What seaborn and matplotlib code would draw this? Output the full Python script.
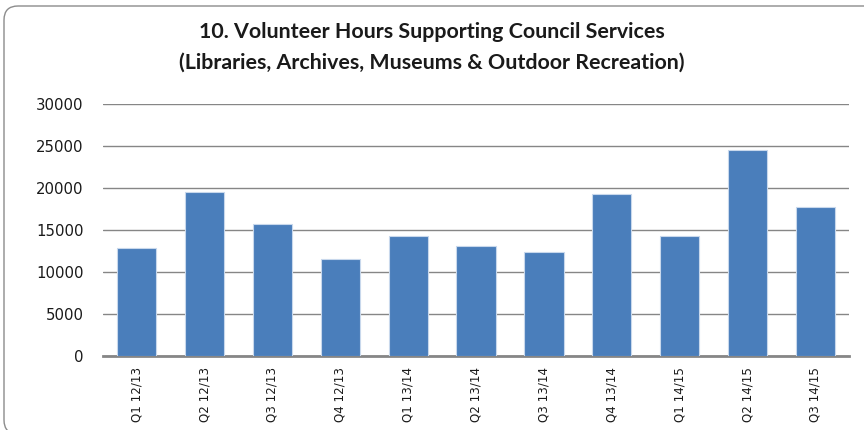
import matplotlib
matplotlib.use("Agg")
import matplotlib.pyplot as plt
from matplotlib.patches import FancyBboxPatch
import seaborn as sns
import pandas as pd

quarters = ["Q1 12/13", "Q2 12/13", "Q3 12/13", "Q4 12/13", "Q1 13/14", "Q2 13/14",
            "Q3 13/14", "Q4 13/14", "Q1 14/15", "Q2 14/15", "Q3 14/15"]
hours = [12900, 19500, 15750, 11600, 14300, 13100, 12400, 19300, 14350, 24550, 17800]
y_ticks = [0, 5000, 10000, 15000, 20000, 25000, 30000]

df = pd.DataFrame({"quarter": quarters, "hours": hours})

sns.set_theme(style="white")
plt.rcParams["font.family"] = ["DejaVu Sans"]

fig = plt.figure(figsize=(8.64, 4.30), dpi=100)
ax = fig.add_axes([0.119, 0.172, 0.864, 0.586])

sns.barplot(data=df, x="quarter", y="hours", color="#4A7EBB", saturation=1,
            width=0.58, edgecolor="#C8D8EC", linewidth=0.8, ax=ax, zorder=3)

ax.set_ylim(0, 30000)
ax.set_yticks(y_ticks)
ax.set_yticklabels([str(t) for t in y_ticks], fontsize=10.7, color="#1a1a1a")
ax.set_xlim(-0.5, len(quarters) - 0.5)
ax.set_xlabel("")
ax.set_ylabel("")
ax.tick_params(axis="x", rotation=90, labelsize=8.6, length=0, pad=8, colors="#1a1a1a")
ax.tick_params(axis="y", length=0, pad=14)
ax.yaxis.grid(True, color="#868686", linewidth=1.0, zorder=0)
ax.set_axisbelow(True)
for side in ["left", "right", "top"]:
    ax.spines[side].set_visible(False)
ax.spines["bottom"].set_color("#868686")
ax.spines["bottom"].set_linewidth(2.0)

fig.text(0.5, 0.925, "10. Volunteer Hours Supporting Council Services",
         ha="center", va="center", fontsize=15.4, fontweight="bold",
         family=["Lato", "DejaVu Sans"], color="#1a1a1a")
fig.text(0.5, 0.855, "(Libraries, Archives, Museums & Outdoor Recreation)",
         ha="center", va="center", fontsize=15.4, fontweight="bold",
         family=["Lato", "DejaVu Sans"], color="#1a1a1a")

# rounded chart-area border, running past the right and bottom edges
frame = FancyBboxPatch((4, -4), 876, 428, boxstyle="round,pad=0,rounding_size=14",
                       transform=None, facecolor="none", edgecolor="#8c8c8c",
                       linewidth=1.0, clip_on=False)
fig.patches.append(frame)

fig.savefig("out.png", dpi=100)
